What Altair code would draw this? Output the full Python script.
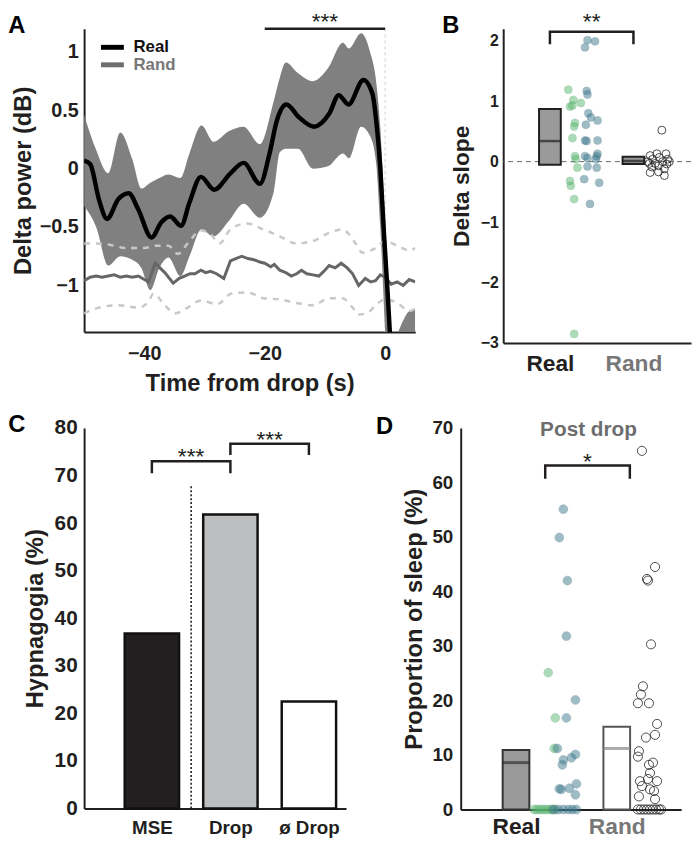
import json
import altair as alt
import pandas as pd

FONT = "Liberation Sans"
INK = "#231f20"
GREY_TXT = "#777777"

# ---------------- Panel A : delta power around the drop ----------------
real_t = [-50, -49, -47.5, -46.2, -44.3, -42.6, -41, -38.8, -37.2, -35.7, -33.9, -32.5,
          -30.6, -28.4, -25.7, -23.5, -20.8, -19.2, -18, -16.4, -14.3, -11.8, -9.3, -7.7,
          -6.1, -3.6, -2.1, -1.5, -0.8, -0.2, 0.4, 1.0]
real_mean = [0.07, 0.04, -0.27, -0.43, -0.26, -0.21, -0.35, -0.59, -0.46, -0.41, -0.49, -0.29,
             -0.07, -0.18, -0.04, 0.05, -0.13, 0.13, 0.41, 0.55, 0.44, 0.36, 0.47, 0.63,
             0.55, 0.76, 0.64, 0.42, 0.0, -0.55, -1.05, -1.6]

band_t = [-50, -48, -46, -44, -42, -40.5, -39, -37.5, -36, -34, -32.5, -30.5, -28.5, -26,
          -23.5, -20.8, -18.5, -17.5, -16.5, -14.5, -12, -9.5, -7, -6, -4, -2.5, -1.5,
          -0.8, 0, 0.6, 1.2, 2, 3, 4, 5]
band_upper = [0.46, 0.16, -0.04, 0.31, 0.08, -0.17, -0.12, -0.08, -0.05, -0.08, 0.13, 0.37,
              0.23, 0.32, 0.36, 0.21, 0.58, 0.78, 0.91, 0.82, 0.75, 0.86, 1.08, 1.03, 1.16,
              1.0, 0.75, 0.35, -0.45, -1.0, -1.5, -1.42, -1.3, -1.22, -1.2]
band_lower = [-0.32, -0.5, -0.83, -0.75, -0.78, -0.85, -1.04, -0.85, -0.76, -0.92, -0.75,
              -0.52, -0.58, -0.45, -0.3, -0.42, -0.2, 0.14, 0.17, 0.17, 0.0, 0.02, 0.13, 0.09,
              0.36, 0.28, 0.05, -0.5, -1.4, -1.9, -2.2, -2.3, -2.3, -2.3, -2.3]

rand_t = [-50, -49, -48, -47, -46, -45, -44, -43, -42, -41, -40, -39.3, -38.2, -37.4, -36.6,
          -35.2, -34.2, -33.3, -32.4, -31.6, -30.6, -29.8, -29, -28, -26.8, -25.7, -24.8,
          -23.8, -22.8, -21.8, -20.8, -20, -19, -18.4, -17.5, -16.5, -15.6, -14.7, -13.9,
          -13, -12, -11, -10.2, -9.3, -8.3, -7.3, -6.3, -5.4, -4.4, -3.3, -2.4, -1.6, -0.8,
          0, 1, 2, 3, 4, 5]
rand_mean = [-0.96, -0.93, -0.92, -0.93, -0.92, -0.91, -0.93, -0.92, -0.93, -0.92, -0.95,
             -0.97, -0.81, -0.85, -0.89, -0.98, -0.94, -0.92, -0.9, -0.9, -0.87, -0.89, -0.88,
             -0.9, -0.94, -0.79, -0.77, -0.75, -0.77, -0.78, -0.8, -0.81, -0.84, -0.82, -0.87,
             -0.89, -0.92, -0.9, -0.87, -0.9, -0.91, -0.92, -0.88, -0.83, -0.85, -0.81, -0.85,
             -0.9, -1.0, -0.94, -0.97, -0.96, -0.91, -0.93, -0.99, -0.97, -1.0, -0.95, -0.97]

rand_up_t = [-50, -48, -46, -43, -40, -38, -36, -34.4, -32.8, -30.6, -29, -27.5, -25.7, -23,
             -20.2, -17.5, -14.8, -12, -9.3, -7.1, -4.9, -3.8, -1.6, 0, 2, 4, 5]
rand_upper = [-0.64, -0.64, -0.65, -0.68, -0.68, -0.66, -0.66, -0.73, -0.64, -0.53, -0.56,
              -0.64, -0.52, -0.47, -0.52, -0.58, -0.64, -0.62, -0.55, -0.52, -0.64, -0.72,
              -0.68, -0.62, -0.66, -0.7, -0.68]
rand_lo_t = [-50, -47.5, -44.3, -41, -39.3, -38.5, -36.6, -34.9, -32.8, -30.6, -27.9, -25.5,
             -22.9, -20.2, -17.5, -14.8, -12, -9.3, -7.1, -5.4, -4.4, -2.8, -1.6, 0, 2, 4, 5]
rand_lower = [-1.24, -1.19, -1.17, -1.19, -1.14, -1.07, -1.17, -1.24, -1.19, -1.13, -1.16,
              -1.07, -1.06, -1.11, -1.12, -1.15, -1.17, -1.11, -1.11, -1.19, -1.25, -1.23,
              -1.17, -1.12, -1.15, -1.22, -1.2]

legend_names = ["Real", "Rand"]
legend_line_colors = ["#000000", "#6e6e6e"]
legend_text_colors = ["#111111", "#777777"]
sigA_from, sigA_to, sigA_label = -20, 0, "***"

# ---------------- Panel B : delta slope ----------------
group_names = ["Real", "Rand"]
b_green_x = [1.22, 1.28, 1.37, 1.24, 1.27, 1.30, 1.29, 1.27, 1.30, 1.31, 1.33, 1.24, 1.25, 1.29, 1.29]
b_green_y = [1.19, 1.02, 0.97, 0.91, 0.93, 0.64, 0.58, 0.39, 0.09, 0.04, -0.10, -0.32, -0.40, -0.62, -2.85]
b_blue_x = [1.45, 1.54, 1.42, 1.44, 1.45, 1.46, 1.49, 1.57, 1.43, 1.42, 1.44, 1.57, 1.42, 1.45,
            1.56, 1.57, 1.55, 1.45, 1.56, 1.41, 1.59, 1.48]
b_blue_y = [2.01, 1.99, 1.89, 1.17, 1.11, 0.80, 0.73, 0.68, 0.61, 0.35, 0.34, 0.35, 0.09, 0.06,
            0.09, 0.13, 0.04, -0.08, -0.10, -0.29, -0.35, -0.70]
b_rand_x = [2.34, 2.20, 2.28, 2.39, 2.23, 2.31, 2.41, 2.19, 2.26, 2.35, 2.40, 2.30, 2.22, 2.37,
            2.20, 2.30, 2.37, 2.17, 2.43]
b_rand_y = [0.52, 0.10, 0.13, 0.13, 0.04, 0.07, 0.04, -0.03, -0.03, 0.0, -0.04, -0.07, -0.09,
            -0.12, -0.18, -0.17, -0.23, 0.0, 0.0]
b_box_low = [-0.05, -0.04]
b_box_high = [0.87, 0.08]
b_box_median = [0.34, 0.01]
sigB_label = "**"

# ---------------- Panel C : hypnagogia ----------------
c_cats = ["MSE", "Drop", "ø Drop"]
c_vals = [36.8, 61.8, 22.5]
c_fill = ["#231f20", "#bcbec0", "#ffffff"]
c_sig_from = [1, 2]
c_sig_to = [2, 3]
c_sig_top = [73.0, 76.7]
c_sig_leg = [70.5, 74.3]
c_sig_label = ["***", "***"]
c_divider_top = 68

# ---------------- Panel D : proportion of sleep ----------------
d_green_x = [1.18, 1.21, 1.24, 1.27, 1.30, 1.33, 1.36, 1.39, 1.32, 1.39, 1.38]
d_green_y = [0, 0, 0, 0, 0, 0, 0, 0, 25.1, 16.8, 11.2]
d_blue_x = [1.37, 1.42, 1.47, 1.52, 1.56, 1.60, 1.47, 1.43, 1.51, 1.50, 1.59, 1.50, 1.41, 1.47,
            1.46, 1.55, 1.59, 1.43, 1.45, 1.53, 1.60, 1.59]
d_blue_y = [0, 0, 0, 0, 0, 0, 55.1, 49.9, 42.0, 31.8, 20.1, 16.8, 11.2, 9.1, 8.2, 9.5, 10.1,
            3.8, 3.7, 3.9, 4.7, 2.7]
d_rand_x = [2.25, 2.38, 2.30, 2.31, 2.34, 2.26, 2.24, 2.21, 2.32, 2.40, 2.38, 2.29, 2.22, 2.21,
            2.36, 2.32, 2.33, 2.31, 2.23, 2.40, 2.25, 2.33, 2.37, 2.22, 2.38,
            2.21, 2.24, 2.27, 2.30, 2.33, 2.36, 2.39, 2.42, 2.44]
d_rand_y = [65.8, 44.5, 42.3, 42.0, 30.3, 22.6, 21.1, 19.5, 19.5, 15.7, 13.7, 13.2, 10.7, 9.7,
            8.6, 8.2, 6.7, 5.6, 5.2, 5.2, 4.3, 3.7, 3.4, 2.4, 1.9,
            0, 0, 0, 0, 0, 0, 0, 0, 0]
d_bar = [10.9, 15.2]
d_median = [8.6, 11.2]
d_sig_from, d_sig_to, d_sig_top, d_sig_leg, d_sig_label = 1.29, 2.13, 63.1, 60.7, "*"
d_title = "Post drop"

GREEN = "#5cb872"
BLUE = "#3f7b8f"

# ---------------- helpers ----------------
def letter(ch, px, py):
    return alt.Chart(pd.DataFrame({"s": [ch]})).mark_text(
        font=FONT, fontSize=24, fontWeight="bold", color="#000", align="center",
        baseline="middle").encode(text="s:N", x=alt.value(px), y=alt.value(py))


def stars(x, y, label, X, Y, dy):
    return alt.Chart(pd.DataFrame({"x": x, "y": y, "s": label})).mark_text(
        font=FONT, fontSize=23, color=INK, baseline="top", dy=dy).encode(
        x=X("x"), y=Y("y"), text="s:N")


def bracket_df(x0, x1, top, leg):
    rows = []
    for i, (a, b, t, l) in enumerate(zip(x0, x1, top, leg)):
        for k, (xx, yy) in enumerate([(a, l), (a, t), (b, t), (b, l)]):
            rows.append({"id": i, "k": k, "x": xx, "y": yy})
    return pd.DataFrame(rows)


group_label_expr = "datum.value == 1 ? %s : %s" % (json.dumps(group_names[0]), json.dumps(group_names[1]))
group_label_color = {"condition": {"test": "datum.value == 2", "value": GREY_TXT}, "value": INK}

# ---------------- Panel A ----------------
A_W, A_H = 335, 307
xA_scale = alt.Scale(domain=[-50, 5], nice=False, zero=False)
yA_scale = alt.Scale(domain=[-1.4, 1.2], nice=False, zero=False)
xA_axis = alt.Axis(values=[-40, -20, 0], title="Time from drop (s)", labelFontSize=20,
                   titleFontSize=24, labelPadding=12, titlePadding=8, grid=False)
yA_axis = alt.Axis(values=[-1, -0.5, 0, 0.5, 1], format="~g", title="Delta power (dB)",
                   labelFontSize=20, titleFontSize=24, labelPadding=6, titlePadding=4, grid=False)


def XA(f):
    return alt.X(f"{f}:Q", scale=xA_scale, axis=xA_axis)


def YA(f):
    return alt.Y(f"{f}:Q", scale=yA_scale, axis=yA_axis)


a_zero = alt.Chart(pd.DataFrame({"t": [0]})).mark_rule(
    color="#cfcfcf", strokeDash=[3, 3], strokeWidth=1).encode(x=XA("t"))
a_band = alt.Chart(pd.DataFrame({"t": band_t, "hi": band_upper, "lo": band_lower})).mark_area(
    color="#808080", opacity=1, clip=True, interpolate="monotone").encode(
    x=XA("t"), y=YA("hi"), y2="lo:Q")
a_rup = alt.Chart(pd.DataFrame({"t": rand_up_t, "v": rand_upper})).mark_line(
    color="#c8c8c8", strokeWidth=2.5, strokeDash=[6, 6], clip=True, interpolate="monotone").encode(
    x=XA("t"), y=YA("v"))
a_rlo = alt.Chart(pd.DataFrame({"t": rand_lo_t, "v": rand_lower})).mark_line(
    color="#c8c8c8", strokeWidth=2.5, strokeDash=[6, 6], clip=True, interpolate="monotone").encode(
    x=XA("t"), y=YA("v"))
a_rmean = alt.Chart(pd.DataFrame({"t": rand_t, "v": rand_mean})).mark_line(
    color="#666666", strokeWidth=3, clip=True).encode(x=XA("t"), y=YA("v"))
a_real = alt.Chart(pd.DataFrame({"t": real_t, "v": real_mean})).mark_line(
    color="#000000", strokeWidth=4.5, clip=True, interpolate="monotone").encode(x=XA("t"), y=YA("v"))
a_sig = alt.Chart(pd.DataFrame({"t": [sigA_from], "t2": [sigA_to], "v": [1.2]})).mark_rule(
    color=INK, strokeWidth=2.5).encode(x=XA("t"), x2="t2:Q", y=YA("v"))
a_sigtxt = stars([(sigA_from + sigA_to) / 2], [1.2], [sigA_label], XA, YA, -17.5)

leg_df = pd.DataFrame({"name": legend_names, "v": [1.04, 0.89], "t0": [-47.2] * 2, "t1": [-43.4] * 2,
                       "tt": [-41.8] * 2, "lc": legend_line_colors, "tc": legend_text_colors})
a_leg_lines = alt.Chart(leg_df).mark_rule(strokeWidth=5).encode(
    x=XA("t0"), x2="t1:Q", y=YA("v"), color=alt.Color("lc:N", scale=None))
a_leg_text = alt.Chart(leg_df).mark_text(font=FONT, fontSize=17, fontWeight="bold", align="left",
                                         baseline="middle").encode(
    x=XA("tt"), y=YA("v"), text="name:N", color=alt.Color("tc:N", scale=None))

panelA = alt.layer(a_zero, a_band, a_rup, a_rlo, a_rmean, a_real, a_sig, a_sigtxt,
                   a_leg_lines, a_leg_text, letter("A", -68, -3)).properties(width=A_W, height=A_H)

# ---------------- Panel B ----------------
B_W, B_H = 190, 318
xB_scale = alt.Scale(domain=[0.5, 2.63], nice=False, zero=False)
yB_scale = alt.Scale(domain=[-3, 2.2], nice=False, zero=False)
xB_axis = alt.Axis(values=[1, 2], labelExpr=group_label_expr, labelColor=group_label_color,
                   title=None, labelFontSize=23, labelPadding=10, grid=False)
yB_axis = alt.Axis(values=[-3, -2, -1, 0, 1, 2], title="Delta slope", labelFontSize=16,
                   titleFontSize=23, labelPadding=5, titlePadding=7, grid=False)


def XB(f):
    return alt.X(f"{f}:Q", scale=xB_scale, axis=xB_axis)


def YB(f):
    return alt.Y(f"{f}:Q", scale=yB_scale, axis=yB_axis)


b_zero = alt.Chart(pd.DataFrame({"y": [0]})).mark_rule(
    color="#666666", strokeDash=[5, 4], strokeWidth=1).encode(y=YB("y"))
b_box_df = pd.DataFrame({"g": [1, 2], "lo": b_box_low, "hi": b_box_high, "med": b_box_median,
                         "fill": ["#9a9a9a", "#9a9a9a"]})
b_box = alt.Chart(b_box_df).mark_bar(size=22, stroke=INK, strokeWidth=2).encode(
    x=XB("g"), y=YB("lo"), y2="hi:Q", color=alt.Color("fill:N", scale=None))
b_med = alt.Chart(b_box_df).mark_tick(orient="horizontal", size=22, thickness=2.5, color=INK).encode(
    x=XB("g"), y=YB("med"))
b_green = alt.Chart(pd.DataFrame({"x": b_green_x, "y": b_green_y})).mark_circle(
    size=64, color=GREEN, opacity=0.5, stroke="#3f9a58", strokeWidth=0.6).encode(x=XB("x"), y=YB("y"))
b_blue = alt.Chart(pd.DataFrame({"x": b_blue_x, "y": b_blue_y})).mark_circle(
    size=64, color=BLUE, opacity=0.5, stroke="#2c5f70", strokeWidth=0.6).encode(x=XB("x"), y=YB("y"))
b_rand = alt.Chart(pd.DataFrame({"x": b_rand_x, "y": b_rand_y})).mark_point(
    shape="circle", size=64, filled=False, color="#222222", strokeWidth=0.8, opacity=1).encode(
    x=XB("x"), y=YB("y"))
b_br = alt.Chart(bracket_df([1], [2], [2.15], [1.94])).mark_line(
    color=INK, strokeWidth=2.5, strokeJoin="miter").encode(x=XB("x"), y=YB("y"), order="k:Q", detail="id:N")
b_sigtxt = stars([1.5], [2.15], [sigB_label], XB, YB, -20.5)

panelB = alt.layer(b_zero, b_box, b_med, b_green, b_blue, b_rand, b_br, b_sigtxt,
                   letter("B", -53, -3)).properties(width=B_W, height=B_H)

# ---------------- Panel C ----------------
C_W, C_H = 265, 385
xC_scale = alt.Scale(domain=[0.2, 3.41], nice=False, zero=False)
yC_scale = alt.Scale(domain=[0, 80], nice=False)
c_label_expr = "%s[datum.value - 1]" % json.dumps(c_cats, ensure_ascii=False)
xC_axis = alt.Axis(values=[1, 2, 3], labelExpr=c_label_expr, title=None, labelFontSize=19,
                   labelPadding=10, grid=False)
yC_axis = alt.Axis(values=list(range(0, 81, 10)), title="Hypnagogia (%)", labelFontSize=21,
                   titleFontSize=24, labelPadding=7, titlePadding=7, grid=False)


def XC(f):
    return alt.X(f"{f}:Q", scale=xC_scale, axis=xC_axis)


def YC(f):
    return alt.Y(f"{f}:Q", scale=yC_scale, axis=yC_axis)


c_df = pd.DataFrame({"pos": [1, 2, 3], "cat": c_cats, "val": c_vals, "fill": c_fill})
c_bars = alt.Chart(c_df).mark_bar(size=55, stroke="#111111", strokeWidth=2.5).encode(
    x=XC("pos"), y=YC("val"), color=alt.Color("fill:N", scale=None))
c_div = alt.Chart(pd.DataFrame({"x": [1.5], "y0": [0], "y1": [c_divider_top]})).mark_rule(
    color="#111111", strokeDash=[2, 2], strokeWidth=1.5).encode(x=XC("x"), y=YC("y0"), y2="y1:Q")
c_br = alt.Chart(bracket_df(c_sig_from, c_sig_to, c_sig_top, c_sig_leg)).mark_line(
    color=INK, strokeWidth=2.5, strokeJoin="miter").encode(x=XC("x"), y=YC("y"), order="k:Q", detail="id:N")
c_sigtxt = stars([(a + b) / 2 for a, b in zip(c_sig_from, c_sig_to)], c_sig_top, c_sig_label, XC, YC, -15)

panelC = alt.layer(c_bars, c_div, c_br, c_sigtxt, letter("C", -68, -3)).properties(width=C_W, height=C_H)

# ---------------- Panel D ----------------
D_W, D_H = 223, 386
xD_scale = alt.Scale(domain=[0.5, 2.59], nice=False, zero=False)
yD_scale = alt.Scale(domain=[0, 70], nice=False)
xD_axis = alt.Axis(values=[1, 2], labelExpr=group_label_expr, labelColor=group_label_color,
                   title=None, labelFontSize=23, labelPadding=6, grid=False)
yD_axis = alt.Axis(values=list(range(0, 71, 10)), title="Proportion of sleep (%)", labelFontSize=19,
                   titleFontSize=24, labelPadding=8, titlePadding=6, grid=False)


def XD(f):
    return alt.X(f"{f}:Q", scale=xD_scale, axis=xD_axis)


def YD(f):
    return alt.Y(f"{f}:Q", scale=yD_scale, axis=yD_axis)


d_bar_df = pd.DataFrame({"g": [1, 2], "v": d_bar, "med": d_median, "fill": ["#9a9a9a", "#ffffff"],
                         "edge": ["#333333", "#555555"], "mc": ["#333333", "#888888"]})
d_bars = alt.Chart(d_bar_df).mark_bar(size=27, strokeWidth=2).encode(
    x=XD("g"), y=YD("v"), color=alt.Color("fill:N", scale=None), stroke=alt.Stroke("edge:N", scale=None))
d_med = alt.Chart(d_bar_df).mark_tick(orient="horizontal", size=27, thickness=3).encode(
    x=XD("g"), y=YD("med"), color=alt.Color("mc:N", scale=None))
d_green = alt.Chart(pd.DataFrame({"x": d_green_x, "y": d_green_y})).mark_circle(
    size=80, color=GREEN, opacity=0.5, stroke="#3f9a58", strokeWidth=0.6).encode(x=XD("x"), y=YD("y"))
d_blue = alt.Chart(pd.DataFrame({"x": d_blue_x, "y": d_blue_y})).mark_circle(
    size=80, color=BLUE, opacity=0.5, stroke="#2c5f70", strokeWidth=0.6).encode(x=XD("x"), y=YD("y"))
d_rand = alt.Chart(pd.DataFrame({"x": d_rand_x, "y": d_rand_y})).mark_point(
    shape="circle", size=85, filled=False, color="#222222", strokeWidth=0.8, opacity=1).encode(
    x=XD("x"), y=YD("y"))
d_br = alt.Chart(bracket_df([d_sig_from], [d_sig_to], [d_sig_top], [d_sig_leg])).mark_line(
    color=INK, strokeWidth=2.5, strokeJoin="miter").encode(x=XD("x"), y=YD("y"), order="k:Q", detail="id:N")
d_sigtxt = stars([(d_sig_from + d_sig_to) / 2], [d_sig_top], [d_sig_label], XD, YD, -15)
d_ttl = alt.Chart(pd.DataFrame({"x": [1.72], "y": [69.6], "s": [d_title]})).mark_text(
    font=FONT, fontSize=21, fontWeight="bold", color="#6d6d6d", baseline="middle").encode(
    x=XD("x"), y=YD("y"), text="s:N")

panelD = alt.layer(d_bars, d_med, d_green, d_blue, d_rand, d_br, d_sigtxt, d_ttl,
                   letter("D", -77, -1)).properties(width=D_W, height=D_H)

chart = alt.vconcat(
    alt.hconcat(panelA, panelB, spacing=27),
    alt.hconcat(panelC, panelD, spacing=30),
    spacing=18,
).properties(padding={"top": -2, "left": 0, "right": 0, "bottom": 0}).configure_view(
    stroke=None).configure_axis(
    domainColor=INK, domainWidth=2, labelColor=INK, titleColor=INK, labelFont=FONT, titleFont=FONT,
    labelFontWeight="bold", titleFontWeight="bold", grid=False, ticks=False, labelFlush=False,
    labelOverlap=False,
)

chart.save("out.html", embed_options={"renderer": "svg", "actions": False})
